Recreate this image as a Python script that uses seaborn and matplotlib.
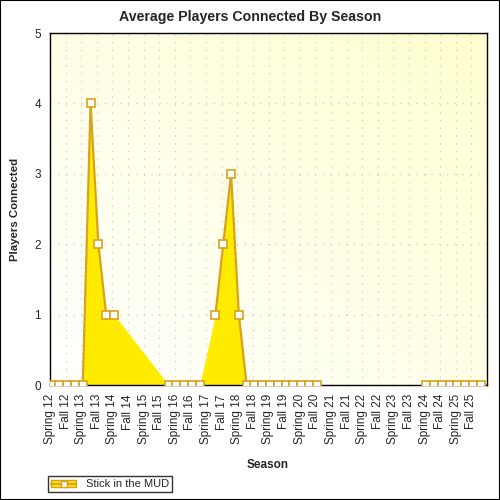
# Average players connected per season - area + line chart
import numpy as np
import pandas as pd
import seaborn as sns
import matplotlib.pyplot as plt
from matplotlib.lines import Line2D
from matplotlib.patches import Patch, Rectangle
from matplotlib.ticker import MultipleLocator
from matplotlib.colors import LinearSegmentedColormap

# Season tick labels
seasons = ["Spring 12", "Fall 12", "Spring 13", "Fall 13", "Spring 14", "Fall 14",
           "Spring 15", "Fall 15", "Spring 16", "Fall 16", "Spring 17", "Fall 17",
           "Spring 18", "Fall 18", "Spring 19", "Fall 19", "Spring 20", "Fall 20",
           "Spring 21", "Fall 21", "Spring 22", "Fall 22", "Spring 23", "Fall 23",
           "Spring 24", "Fall 24", "Spring 25", "Fall 25"]

# Two samples per season (quarter index), nan = no data
quarter = list(range(56))
nan = np.nan
players = [0, 0, 0, 0, 0, 4, 2, 1, 1,
           nan, nan, nan, nan, nan, nan,
           0, 0, 0, 0, 0,
           nan,
           1, 2, 3, 1,
           0, 0, 0, 0, 0, 0, 0, 0, 0, 0,
           nan, nan, nan, nan, nan, nan, nan, nan, nan, nan, nan, nan, nan,
           0, 0, 0, 0, 0, 0, 0, 0]
series_name = "Stick in the MUD"

gold = "#D9A21E"
yellow = "#FFEB00"

sns.set_style("white")
plt.rcParams['font.family'] = ['Liberation Sans', 'DejaVu Sans']

df = pd.DataFrame({'quarter': quarter, 'players': players})
df['x'] = df['quarter'] / 2 + 0.1
df['seg'] = df['players'].isna().cumsum()
valid = df.dropna()

fig = plt.figure(figsize=(5, 5), dpi=100)
ax = fig.add_axes([0.1, 0.23, 0.874, 0.704])

# background gradient (white bottom-left to pale yellow top-right)
gx, gy = np.meshgrid(np.linspace(0, 1, 200), np.linspace(0, 1, 200))
cmap = LinearSegmentedColormap.from_list('bg', ['#FFFFFF', '#FFFFD0'])
ax.imshow((gx + gy) / 2, extent=[0, 1, 0, 1], transform=ax.transAxes,
          origin='lower', aspect='auto', cmap=cmap, zorder=-1)

# area filled between known points
ax.fill_between(valid['x'], valid['players'], color=yellow, lw=0, zorder=2)

# line with markers, broken at gaps
sns.lineplot(data=valid, x='x', y='players', units='seg', estimator=None,
             color=gold, lw=1.6, marker='s', markersize=5.5,
             markerfacecolor='white', markeredgecolor=gold, markeredgewidth=1.2,
             legend=False, ax=ax, zorder=3, clip_on=True)

ax.set_xlim(0, 28)
ax.set_ylim(0, 5)
ax.set_xticks(range(len(seasons)))
ax.set_xticklabels(seasons, rotation=90, fontsize=8.5)
ax.xaxis.set_minor_locator(MultipleLocator(0.5))
ax.set_yticks(range(6))
ax.set_yticklabels([str(v) for v in range(6)], fontsize=8.5)
ax.yaxis.set_minor_locator(MultipleLocator(0.2))
ax.tick_params(which='major', direction='out', length=5, width=1, color='black', pad=1.5)
ax.tick_params(which='minor', direction='out', length=3, width=1, color='black')
ax.set_xlabel('')
ax.set_ylabel('')

ax.grid(True, which='major', color='#c4c4c4', linestyle=(0, (1, 6)), lw=0.8)
ax.set_axisbelow(True)
for sp in ax.spines.values():
    sp.set_color('black')
    sp.set_linewidth(1)

fig.text(0.5, 1 - 17 / 500, 'Average Players Connected By Season',
         ha='center', va='center', fontsize=10.2, fontweight='bold')
fig.text(15 / 500, 1 - 209 / 500, 'Players Connected', rotation=90,
         ha='center', va='center', fontsize=8.2, fontweight='bold')
fig.text(268 / 500, 1 - 465 / 500, 'Season',
         ha='center', va='center', fontsize=8.5, fontweight='bold')

# legend at bottom-left of the figure
handle = (Patch(facecolor=yellow, edgecolor=gold, lw=1),
          Line2D([], [], color=gold, lw=1.6, marker='s', markersize=5,
                 markerfacecolor='white', markeredgecolor=gold))
leg = fig.legend([handle], [series_name], loc='lower left',
                 bbox_to_anchor=(48 / 500, 1 - 492 / 500), fontsize=8,
                 frameon=True, fancybox=False, borderpad=0.25,
                 handlelength=2.3, handleheight=0.6, handletextpad=0.9,
                 borderaxespad=0)
leg.get_frame().set_edgecolor('black')
leg.get_frame().set_linewidth(1)

fig.patches.append(Rectangle((0, 0), 1, 1, transform=fig.transFigure,
                             fill=False, edgecolor='black', lw=1.5))

plt.savefig('out.png', dpi=100)
